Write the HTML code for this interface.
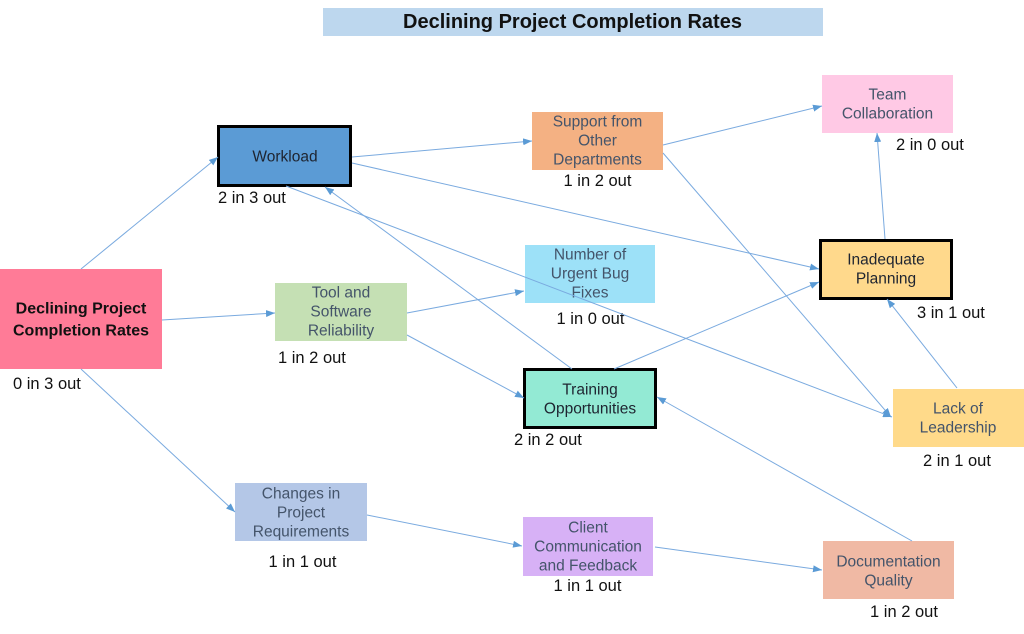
<!DOCTYPE html>
<html>
<head>
<meta charset="utf-8">
<style>
html,body{margin:0;padding:0;background:#fff;}
svg{display:block;}
text{font-family:"Liberation Sans",Arial,sans-serif;}
.n{font-size:15.5px;fill:#44546A;text-anchor:middle;dominant-baseline:central;}
.d{font-size:15.5px;fill:#1e2430;text-anchor:middle;dominant-baseline:central;}
.c{font-size:16.5px;fill:#111;dominant-baseline:central;}
.cm{font-size:16.5px;fill:#111;dominant-baseline:central;text-anchor:middle;}
.e{stroke:#7AAADF;stroke-width:1;fill:none;}
</style>
</head>
<body>
<svg width="1024" height="634" viewBox="0 0 1024 634" xmlns="http://www.w3.org/2000/svg">
<defs>
<marker id="ar" markerUnits="userSpaceOnUse" markerWidth="9" markerHeight="7" refX="9" refY="3.5" orient="auto">
<path d="M0,0 L9,3.5 L0,7 z" fill="#5B9BD5"/>
</marker>
</defs>
<rect width="1024" height="634" fill="#fff"/>

<!-- title -->
<rect x="323" y="8" width="500" height="28" fill="#BDD7EE"/>
<text x="572.5" y="22" font-size="20" font-weight="bold" text-anchor="middle" dominant-baseline="central" fill="#111">Declining Project Completion Rates</text>

<!-- root -->
<rect x="0" y="269" width="162" height="100" fill="#FF7B97"/>
<text x="81" y="309" font-size="16" font-weight="bold" text-anchor="middle" dominant-baseline="central" fill="#111">Declining Project</text>
<text x="81" y="331" font-size="16" font-weight="bold" text-anchor="middle" dominant-baseline="central" fill="#111">Completion Rates</text>
<text class="c" x="13" y="384">0 in 3 out</text>

<!-- workload -->
<rect x="218.5" y="126.5" width="132" height="59" fill="#5B9BD5" stroke="#000" stroke-width="3"/>
<text class="d" x="285" y="157">Workload</text>
<text class="c" x="218" y="198">2 in 3 out</text>

<!-- tool -->
<rect x="275" y="283" width="132" height="58" fill="#C5E0B4"/>
<text class="n" x="341" y="293">Tool and</text>
<text class="n" x="341" y="312">Software</text>
<text class="n" x="341" y="331">Reliability</text>
<text class="c" x="278" y="358">1 in 2 out</text>

<!-- support -->
<rect x="532" y="112" width="131" height="58" fill="#F4B183"/>
<text class="n" x="597.5" y="122">Support from</text>
<text class="n" x="597.5" y="141">Other</text>
<text class="n" x="597.5" y="160">Departments</text>
<text class="cm" x="597.5" y="181">1 in 2 out</text>

<!-- team -->
<rect x="822" y="75" width="131" height="58" fill="#FFC9E5"/>
<text class="n" x="887.5" y="95">Team</text>
<text class="n" x="887.5" y="114">Collaboration</text>
<text class="c" x="896" y="145">2 in 0 out</text>

<!-- number -->
<rect x="525" y="245" width="130" height="58" fill="#9DE1F8"/>
<text class="n" x="590" y="255">Number of</text>
<text class="n" x="590" y="274">Urgent Bug</text>
<text class="n" x="590" y="293">Fixes</text>
<text class="cm" x="590.5" y="319">1 in 0 out</text>

<!-- planning -->
<rect x="820.5" y="240.5" width="131" height="58" fill="#FFD98C" stroke="#000" stroke-width="3"/>
<text class="d" x="886" y="260">Inadequate</text>
<text class="d" x="886" y="279">Planning</text>
<text class="c" x="917" y="313">3 in 1 out</text>

<!-- training -->
<rect x="524.5" y="369.5" width="131" height="58" fill="#93EAD4" stroke="#000" stroke-width="3"/>
<text class="d" x="590" y="390">Training</text>
<text class="d" x="590" y="409">Opportunities</text>
<text class="c" x="514" y="440">2 in 2 out</text>

<!-- leadership -->
<rect x="893" y="389" width="131" height="58" fill="#FFDA8A"/>
<text class="n" x="958" y="409">Lack of</text>
<text class="n" x="958" y="428">Leadership</text>
<text class="cm" x="957" y="461">2 in 1 out</text>

<!-- changes -->
<rect x="235" y="483" width="132" height="58" fill="#B4C7E7"/>
<text class="n" x="301" y="494">Changes in</text>
<text class="n" x="301" y="513">Project</text>
<text class="n" x="301" y="532">Requirements</text>
<text class="cm" x="302.5" y="562">1 in 1 out</text>

<!-- client -->
<rect x="523" y="517" width="130" height="59" fill="#D7B1F6"/>
<text class="n" x="588" y="528">Client</text>
<text class="n" x="588" y="547">Communication</text>
<text class="n" x="588" y="566">and Feedback</text>
<text class="cm" x="587.5" y="586">1 in 1 out</text>

<!-- documentation -->
<rect x="823" y="541" width="131" height="58" fill="#F0B9A4"/>
<text class="n" x="888.5" y="562">Documentation</text>
<text class="n" x="888.5" y="581">Quality</text>
<text class="cm" x="904" y="612">1 in 2 out</text>

<!-- edges (drawn on top) -->
<g class="e" marker-end="url(#ar)">
<path d="M81,269 L218,157"/>
<path d="M162,320 L275,313"/>
<path d="M81,369 L235,512"/>
<path d="M352,157 L532,141"/>
<path d="M352,163 L819,269"/>
<path d="M286,186 L892,417"/>
<path d="M572,369 L325,187"/>
<path d="M407,313 L524,291"/>
<path d="M407,335 L524,398"/>
<path d="M663,145 L822,106"/>
<path d="M663,153 L891,417"/>
<path d="M614,369 L819,282"/>
<path d="M885,239 L877,133"/>
<path d="M957,388 L887,299"/>
<path d="M367,515 L522,546"/>
<path d="M655,547 L822,570"/>
<path d="M912,541 L657,397"/>
</g>
</svg>
</body>
</html>
